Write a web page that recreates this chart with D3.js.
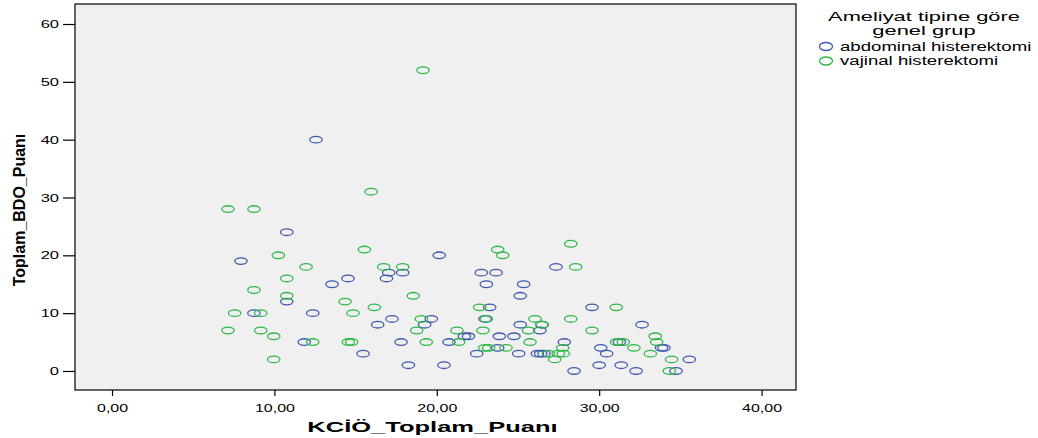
<!DOCTYPE html>
<html lang="tr">
<head>
  <meta charset="UTF-8">
  <title>scatter</title>
  <script src="https://d3js.org/d3.v7.min.js"></script>
  <style>
    body {
      margin: 0;
      padding: 0;
      background: #fff;
    }
    #chart {
      width: 1038px;
      height: 438px;
    }
    text {
      font-family: "Liberation Sans", Arial, sans-serif;
      fill: #000;
    }
  </style>
</head>
<body>
  <div id="chart"></div>
<script>
  // abdominal histerektomi: [KCİÖ_Toplam_Puanı, Toplam_BDO_Puanı]
  const abdominal = [
    [12.56, 40], [10.76, 24], [7.94, 19], [20.15, 20], [17.04, 17], [17.9, 17],
    [16.9, 16], [14.53, 16], [13.55, 15], [10.76, 12], [8.74, 10], [12.36, 10],
    [16.36, 8], [17.24, 9], [11.84, 5], [15.46, 3], [17.8, 5], [22.74, 17],
    [23.65, 17], [23.05, 15], [25.35, 15], [27.34, 18], [25.14, 13], [23.26, 11],
    [29.56, 11], [19.66, 9], [19.25, 8], [22.97, 9], [25.14, 8], [26.48, 8],
    [26.35, 7], [21.7, 6], [21.95, 6], [23.85, 6], [24.75, 6], [20.75, 5],
    [27.85, 5], [23.75, 4], [30.1, 4], [22.46, 3], [25.04, 3], [26.2, 3],
    [26.4, 3], [26.6, 3], [18.25, 1], [20.44, 1], [28.45, 0], [30.0, 1],
    [32.64, 8], [31.24, 5], [33.84, 4], [33.99, 4], [30.46, 3], [35.55, 2],
    [31.36, 1], [32.27, 0], [34.73, 0]
  ]
  // vajinal histerektomi
  const vajinal = [
    [19.15, 52], [15.95, 31], [7.14, 28], [8.74, 28], [15.54, 21], [10.24, 20],
    [11.95, 18], [16.73, 18], [17.9, 18], [10.76, 16], [8.74, 14], [10.76, 13],
    [14.35, 12], [16.15, 11], [7.55, 10], [9.16, 10], [14.84, 10], [7.14, 7],
    [9.16, 7], [9.96, 6], [12.36, 5], [14.55, 5], [14.76, 5], [9.96, 2],
    [28.25, 22], [23.75, 21], [24.06, 20], [28.55, 18], [18.55, 13], [22.64, 11],
    [19.05, 9], [23.05, 9], [26.05, 9], [28.25, 9], [26.48, 8], [18.76, 7],
    [21.24, 7], [22.84, 7], [25.65, 7], [29.56, 7], [19.35, 5], [21.35, 5],
    [25.74, 5], [22.95, 4], [23.19, 4], [24.26, 4], [27.75, 4], [26.87, 3],
    [27.48, 3], [27.79, 3], [27.26, 2], [31.05, 11], [33.45, 6], [33.54, 5],
    [31.07, 5], [31.48, 5], [32.14, 4], [33.15, 3], [34.46, 2], [34.32, 0]
  ]
  const groups = ['abdominal histerektomi', 'vajinal histerektomi']
  const colors = ['#3e58ac', '#2eb848']
  const xTicks = [0, 10, 20, 30, 40]
  const yTicks = [0, 10, 20, 30, 40, 50, 60]
  const xLabel = 'KCİÖ_Toplam_Puanı'
  const yLabel = 'Toplam_BDO_Puanı'
  const legendTitle = ['Ameliyat tipine göre', 'genel grup']

  const width = 1038, height = 438
  const plot = { left: 75, top: 4, right: 796, bottom: 390 }

  const svg = d3.select('#chart')
    .append('svg')
    .attr('width', width)
    .attr('height', height)

  const x = d3.scaleLinear().domain([-2.28, 42.12]).range([plot.left, plot.right])
  const y = d3.scaleLinear().domain([-3.29, 63.46]).range([plot.bottom, plot.top])
  const fmt = d => d3.format('.2f')(d).replace('.', ',')

  // the original picture is stretched sideways, so the text is too
  function stretch(sel, k) {
    sel.each(function () {
      const len = this.getComputedTextLength()
      d3.select(this).attr('textLength', len * k).attr('lengthAdjust', 'spacingAndGlyphs')
    })
  }

  svg.append('rect')
    .attr('x', plot.left)
    .attr('y', plot.top)
    .attr('width', plot.right - plot.left)
    .attr('height', plot.bottom - plot.top)
    .attr('fill', '#f0f0f0')

  // axes
  const xAxis = svg.append('g')
    .attr('transform', `translate(0,${plot.bottom})`)
    .call(d3.axisBottom(x).tickValues(xTicks).tickFormat(fmt).tickSize(6).tickSizeOuter(0))
  const yAxis = svg.append('g')
    .attr('transform', `translate(${plot.left},0)`)
    .call(d3.axisLeft(y).tickValues(yTicks).tickFormat(d3.format('d')).tickSize(12).tickSizeOuter(0))

  xAxis.select('.domain').remove()
  yAxis.select('.domain').remove()
  svg.selectAll('.tick line').attr('stroke', '#000').attr('stroke-width', 1.2)
  xAxis.selectAll('text').attr('font-size', 11).attr('dy', '1.15em').call(stretch, 1.45)
  yAxis.selectAll('text').attr('font-size', 11).attr('dx', '-1px').call(stretch, 1.5)
  svg.selectAll('.tick text').attr('font-family', '"Liberation Sans", Arial, sans-serif')

  svg.append('rect')
    .attr('x', plot.left)
    .attr('y', plot.top)
    .attr('width', plot.right - plot.left)
    .attr('height', plot.bottom - plot.top)
    .attr('fill', 'none')
    .attr('stroke', '#000')
    .attr('stroke-width', 1.2)

  // points
  const series = [abdominal, vajinal]
  series.forEach((pts, i) => {
    svg.append('g')
      .selectAll('ellipse')
      .data(pts)
      .join('ellipse')
      .attr('cx', d => x(d[0]))
      .attr('cy', d => y(d[1]))
      .attr('rx', 6.2)
      .attr('ry', 3.3)
      .attr('fill', 'none')
      .attr('stroke', colors[i])
      .attr('stroke-width', 1.3)
  })

  // axis titles
  svg.append('text')
    .attr('x', (plot.left + plot.right) / 2 - 3)
    .attr('y', 432)
    .attr('text-anchor', 'middle')
    .attr('font-size', 15)
    .attr('font-weight', 'bold')
    .text(xLabel)
    .call(stretch, 1.7)

  svg.append('text')
    .attr('transform', 'translate(25,210) rotate(-90)')
    .attr('text-anchor', 'middle')
    .attr('font-size', 16)
    .attr('font-weight', 'bold')
    .text(yLabel)

  // legend
  const legend = svg.append('g')
  legend.selectAll('text.title')
    .data(legendTitle)
    .join('text')
    .attr('class', 'title')
    .attr('x', 924)
    .attr('y', (d, i) => 21 + i * 13.5)
    .attr('text-anchor', 'middle')
    .attr('font-size', 13)
    .text(d => d)
    .call(stretch, 1.68)

  const items = legend.selectAll('g.item')
    .data(groups)
    .join('g')
    .attr('class', 'item')
    .attr('transform', (d, i) => `translate(0,${46.5 + i * 14.5})`)
  items.append('ellipse')
    .attr('cx', 826)
    .attr('cy', 0)
    .attr('rx', 6.5)
    .attr('ry', 4)
    .attr('fill', 'none')
    .attr('stroke', (d, i) => colors[i])
    .attr('stroke-width', 1.3)
  items.append('text')
    .attr('x', 840)
    .attr('y', 4)
    .attr('font-size', 12)
    .text(d => d)
    .call(stretch, 1.55)
</script>
</body>
</html>
